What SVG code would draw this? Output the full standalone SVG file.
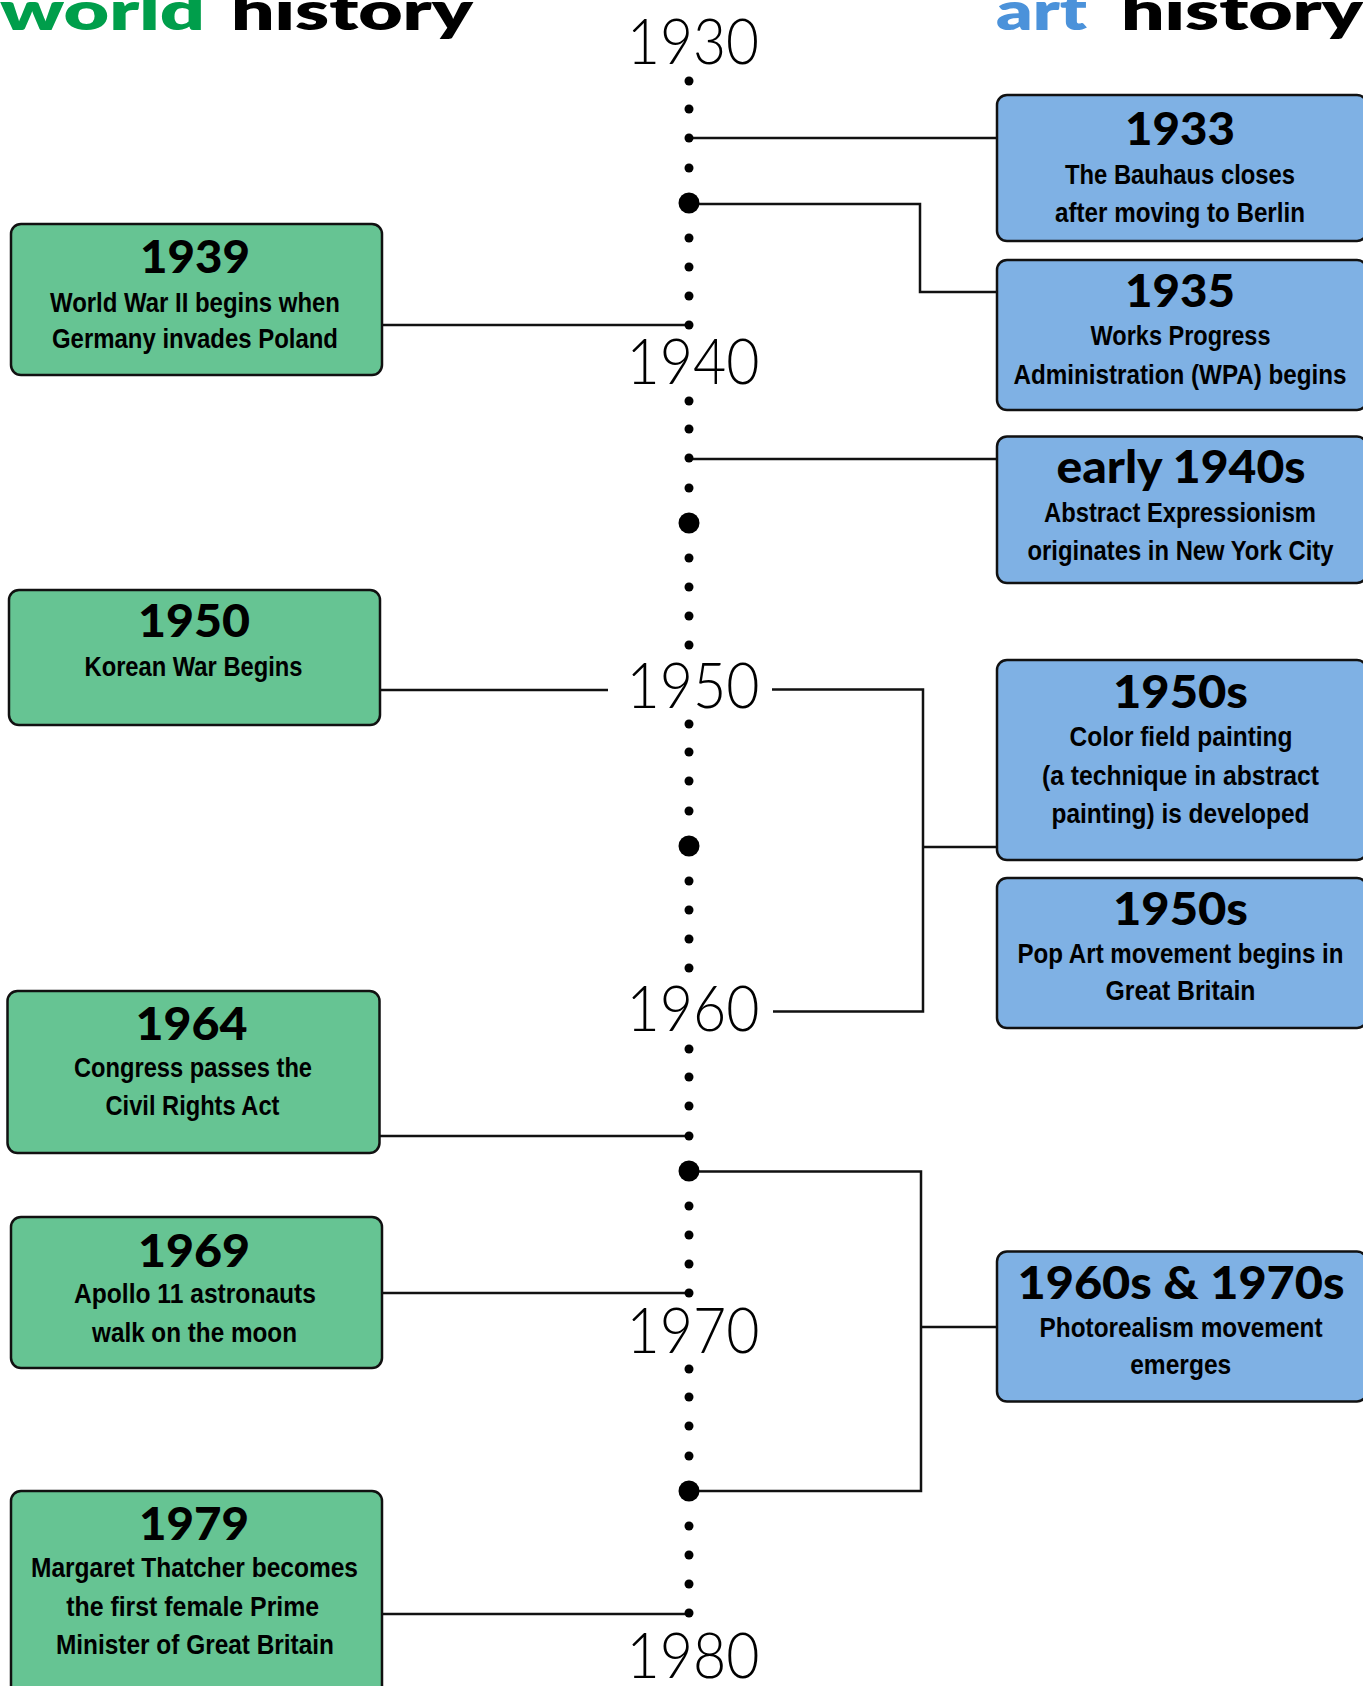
<svg xmlns="http://www.w3.org/2000/svg" width="1363" height="1686" viewBox="0 0 1363 1686">
<style>
.hd{font-family:Lato,'Liberation Sans',sans-serif;font-weight:800;font-size:53px}
.tl{font-family:Lato,'Liberation Sans',sans-serif;font-weight:300;font-size:64px;text-anchor:middle;fill:#000}
.yr{font-family:Lato,'Liberation Sans',sans-serif;font-weight:900;font-size:46px;text-anchor:middle;fill:#000}
.ds{font-family:'Liberation Sans Narrow','Liberation Sans',sans-serif;font-weight:700;font-size:28.5px;text-anchor:middle;fill:#000}
.g{fill:#66C493;stroke:#111;stroke-width:2.5}
.b{fill:#7FB1E4;stroke:#111;stroke-width:2.5}
.cn{fill:none;stroke:#111;stroke-width:2.5}
.d{fill:#000}
</style>
<rect width="1363" height="1686" fill="#fff"/>
<g id="headers">
<text class="hd" x="0" y="30" fill="#009E4B" textLength="205" lengthAdjust="spacingAndGlyphs">world</text>
<text class="hd" x="231" y="30" fill="#000" textLength="242" lengthAdjust="spacingAndGlyphs">history</text>
<text class="hd" x="996" y="30" fill="#4B92DA" textLength="91" lengthAdjust="spacingAndGlyphs">art</text>
<text class="hd" x="1121" y="30" fill="#000" textLength="242" lengthAdjust="spacingAndGlyphs">history</text>
</g>
<g id="connectors">
<path class="cn" d="M689 138 H997"/>
<path class="cn" d="M689 204 H920 V292 H997"/>
<path class="cn" d="M382 325 H689"/>
<path class="cn" d="M689 459 H997"/>
<path class="cn" d="M380 690 H608"/>
<path class="cn" d="M772 689.5 H923 V1011.5 H773"/>
<path class="cn" d="M923 847 H997"/>
<path class="cn" d="M379 1136 H689"/>
<path class="cn" d="M689 1171.5 H921 V1491 H689"/>
<path class="cn" d="M921 1327 H997"/>
<path class="cn" d="M382 1293 H689"/>
<path class="cn" d="M382 1614 H689"/>
</g>
<g id="timeline">
<g class="d">
<circle cx="689" cy="81" r="4.5"/><circle cx="689" cy="109" r="4.5"/><circle cx="689" cy="138" r="4.5"/><circle cx="689" cy="168" r="4.5"/><circle cx="689" cy="203" r="10.5"/><circle cx="689" cy="238" r="4.5"/><circle cx="689" cy="267" r="4.5"/><circle cx="689" cy="296" r="4.5"/><circle cx="689" cy="325" r="4.5"/>
<circle cx="689" cy="401" r="4.5"/><circle cx="689" cy="429" r="4.5"/><circle cx="689" cy="458" r="4.5"/><circle cx="689" cy="488" r="4.5"/><circle cx="689" cy="523" r="10.5"/><circle cx="689" cy="558" r="4.5"/><circle cx="689" cy="587" r="4.5"/><circle cx="689" cy="616" r="4.5"/><circle cx="689" cy="645" r="4.5"/>
<circle cx="689" cy="724" r="4.5"/><circle cx="689" cy="752" r="4.5"/><circle cx="689" cy="781" r="4.5"/><circle cx="689" cy="811" r="4.5"/><circle cx="689" cy="846" r="10.5"/><circle cx="689" cy="881" r="4.5"/><circle cx="689" cy="910" r="4.5"/><circle cx="689" cy="939" r="4.5"/><circle cx="689" cy="968" r="4.5"/>
<circle cx="689" cy="1049" r="4.5"/><circle cx="689" cy="1077" r="4.5"/><circle cx="689" cy="1106" r="4.5"/><circle cx="689" cy="1136" r="4.5"/><circle cx="689" cy="1171" r="10.5"/><circle cx="689" cy="1206" r="4.5"/><circle cx="689" cy="1235" r="4.5"/><circle cx="689" cy="1264" r="4.5"/><circle cx="689" cy="1293" r="4.5"/>
<circle cx="689" cy="1369" r="4.5"/><circle cx="689" cy="1397" r="4.5"/><circle cx="689" cy="1426" r="4.5"/><circle cx="689" cy="1456" r="4.5"/><circle cx="689" cy="1491" r="10.5"/><circle cx="689" cy="1526" r="4.5"/><circle cx="689" cy="1555" r="4.5"/><circle cx="689" cy="1584" r="4.5"/><circle cx="689" cy="1613" r="4.5"/>
</g>
<text class="tl" x="693" y="64" textLength="132" lengthAdjust="spacingAndGlyphs">1930</text>
<text class="tl" x="693" y="384" textLength="133" lengthAdjust="spacingAndGlyphs">1940</text>
<text class="tl" x="693" y="708" textLength="133" lengthAdjust="spacingAndGlyphs">1950</text>
<text class="tl" x="693" y="1031" textLength="133" lengthAdjust="spacingAndGlyphs">1960</text>
<text class="tl" x="693" y="1353" textLength="133" lengthAdjust="spacingAndGlyphs">1970</text>
<text class="tl" x="693" y="1678" textLength="133" lengthAdjust="spacingAndGlyphs">1980</text>
</g>
<g id="n1939">
<rect class="g" x="11" y="224" width="371" height="151" rx="10"/>
<text class="yr" x="195" y="273" textLength="110" lengthAdjust="spacingAndGlyphs">1939</text>
<text class="ds" x="195" y="311.5" textLength="290" lengthAdjust="spacingAndGlyphs">World War II begins when</text>
<text class="ds" x="195" y="347.5" textLength="286" lengthAdjust="spacingAndGlyphs">Germany invades Poland</text>
</g>
<g id="n1950">
<rect class="g" x="9" y="590" width="371" height="135" rx="10"/>
<text class="yr" x="194" y="637" textLength="112" lengthAdjust="spacingAndGlyphs">1950</text>
<text class="ds" x="193.5" y="676" textLength="218" lengthAdjust="spacingAndGlyphs">Korean War Begins</text>
</g>
<g id="n1964">
<rect class="g" x="7.5" y="991" width="372" height="162" rx="10"/>
<text class="yr" x="191.5" y="1040" textLength="112" lengthAdjust="spacingAndGlyphs">1964</text>
<text class="ds" x="193" y="1077" textLength="238" lengthAdjust="spacingAndGlyphs">Congress passes the</text>
<text class="ds" x="192.5" y="1115" textLength="174" lengthAdjust="spacingAndGlyphs">Civil Rights Act</text>
</g>
<g id="n1969">
<rect class="g" x="11" y="1217" width="371" height="151" rx="10"/>
<text class="yr" x="194" y="1266.5" textLength="112" lengthAdjust="spacingAndGlyphs">1969</text>
<text class="ds" x="195" y="1303" textLength="242" lengthAdjust="spacingAndGlyphs">Apollo 11 astronauts</text>
<text class="ds" x="194.5" y="1341.5" textLength="205" lengthAdjust="spacingAndGlyphs">walk on the moon</text>
</g>
<g id="n1979">
<rect class="g" x="11" y="1491" width="371" height="230" rx="10"/>
<text class="yr" x="194" y="1540" textLength="110" lengthAdjust="spacingAndGlyphs">1979</text>
<text class="ds" x="194.5" y="1577" textLength="327" lengthAdjust="spacingAndGlyphs">Margaret Thatcher becomes</text>
<text class="ds" x="192.7" y="1616" textLength="253" lengthAdjust="spacingAndGlyphs">the first female Prime</text>
<text class="ds" x="195" y="1654" textLength="278" lengthAdjust="spacingAndGlyphs">Minister of Great Britain</text>
</g>
<g id="n1933">
<rect class="b" x="997" y="95" width="370" height="146" rx="10"/>
<text class="yr" x="1180" y="145" textLength="110" lengthAdjust="spacingAndGlyphs">1933</text>
<text class="ds" x="1180" y="183.5" textLength="230" lengthAdjust="spacingAndGlyphs">The Bauhaus closes</text>
<text class="ds" x="1180" y="222" textLength="250" lengthAdjust="spacingAndGlyphs">after moving to Berlin</text>
</g>
<g id="n1935">
<rect class="b" x="997" y="260" width="370" height="150" rx="10"/>
<text class="yr" x="1180" y="307" textLength="110" lengthAdjust="spacingAndGlyphs">1935</text>
<text class="ds" x="1180.5" y="345" textLength="180" lengthAdjust="spacingAndGlyphs">Works Progress</text>
<text class="ds" x="1180" y="383.5" textLength="333" lengthAdjust="spacingAndGlyphs">Administration (WPA) begins</text>
</g>
<g id="nearly1940s">
<rect class="b" x="997" y="436.5" width="370" height="146.5" rx="10"/>
<text class="yr" x="1181" y="483" textLength="249" lengthAdjust="spacingAndGlyphs">early 1940s</text>
<text class="ds" x="1180" y="521.5" textLength="272" lengthAdjust="spacingAndGlyphs">Abstract Expressionism</text>
<text class="ds" x="1180.5" y="560" textLength="306" lengthAdjust="spacingAndGlyphs">originates in New York City</text>
</g>
<g id="n1950s-color">
<rect class="b" x="997" y="660" width="370" height="200" rx="10"/>
<text class="yr" x="1180.5" y="708" textLength="135" lengthAdjust="spacingAndGlyphs">1950s</text>
<text class="ds" x="1181" y="745.5" textLength="223" lengthAdjust="spacingAndGlyphs">Color field painting</text>
<text class="ds" x="1180.5" y="785" textLength="277" lengthAdjust="spacingAndGlyphs">(a technique in abstract</text>
<text class="ds" x="1180.5" y="823" textLength="258" lengthAdjust="spacingAndGlyphs">painting) is developed</text>
</g>
<g id="n1950s-pop">
<rect class="b" x="997" y="878" width="370" height="150" rx="10"/>
<text class="yr" x="1180.5" y="925" textLength="135" lengthAdjust="spacingAndGlyphs">1950s</text>
<text class="ds" x="1180.5" y="963" textLength="326" lengthAdjust="spacingAndGlyphs">Pop Art movement begins in</text>
<text class="ds" x="1180.5" y="1000" textLength="150" lengthAdjust="spacingAndGlyphs">Great Britain</text>
</g>
<g id="n1960s-1970s">
<rect class="b" x="997" y="1251.5" width="370" height="150" rx="10"/>
<text class="yr" x="1181" y="1298.5" textLength="327" lengthAdjust="spacingAndGlyphs">1960s &amp; 1970s</text>
<text class="ds" x="1181" y="1337" textLength="283" lengthAdjust="spacingAndGlyphs">Photorealism movement</text>
<text class="ds" x="1180.7" y="1373.5" textLength="101" lengthAdjust="spacingAndGlyphs">emerges</text>
</g>
</svg>
